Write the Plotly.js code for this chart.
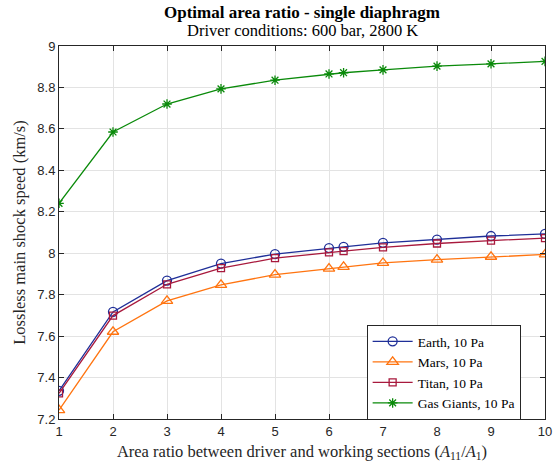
<!DOCTYPE html>
<html>
<head>
<meta charset="utf-8">
<script src="https://cdn.plot.ly/plotly-3.0.1.min.js"></script>
<style>html,body{margin:0;padding:0;background:#fff;}#chart{width:553px;height:470px;}</style>
</head>
<body>
<div id="chart"></div>
<script>
const xValues = [1, 2, 3, 4, 5, 6, 6.27, 7, 8, 9, 10];
const earth = [7.336, 7.717, 7.868, 7.950, 7.996, 8.025, 8.031, 8.050, 8.066, 8.083, 8.093];
const mars = [7.243, 7.621, 7.770, 7.847, 7.897, 7.926, 7.934, 7.953, 7.969, 7.983, 7.994];
const titan = [7.324, 7.699, 7.850, 7.928, 7.976, 8.004, 8.010, 8.028, 8.047, 8.061, 8.073];
const gasGiants = [8.241, 8.585, 8.720, 8.793, 8.835, 8.865, 8.871, 8.885, 8.903, 8.914, 8.926];
const seriesNames = ["Earth, 10 Pa", "Mars, 10 Pa", "Titan, 10 Pa", "Gas Giants, 10 Pa"];
const xTicks = [1, 2, 3, 4, 5, 6, 7, 8, 9, 10];
const yTicks = [7.2, 7.4, 7.6, 7.8, 8, 8.2, 8.4, 8.6, 8.8, 9];
const titleText = "Optimal area ratio - single diaphragm";
const subtitleText = "Driver conditions: 600 bar, 2800 K";

const serif = "'Liberation Serif', 'DejaVu Serif', serif";
const sans = "'Liberation Sans', Arial, sans-serif";

function tr(name, y, color, symbol, size) {
  return {
    x: xValues, y: y, name: name, type: 'scatter', mode: 'lines+markers',
    line: {color: color, width: 1.3},
    marker: {symbol: symbol, size: size, color: color, line: {color: color, width: 1.3}}
  };
}

const data = [
  tr(seriesNames[0], earth, '#1f2f98', 'circle-open', 9),
  tr(seriesNames[1], mars, '#ff7410', 'triangle-up-open', 10),
  tr(seriesNames[2], titan, '#a8193d', 'square-open', 7),
  tr(seriesNames[3], gasGiants, '#0a8a0a', 'asterisk-open', 8)
];

const layout = {
  width: 553, height: 470,
  margin: {l: 59, r: 8, t: 46, b: 51},
  paper_bgcolor: '#fff', plot_bgcolor: '#fff',
  annotations: [
    {text: "<b>" + titleText + "</b>", xref: 'paper', yref: 'paper', x: 0.5, y: 1.089, xanchor: 'center', yanchor: 'middle',
     showarrow: false, font: {family: serif, size: 17, color: '#000'}},
    {text: subtitleText, xref: 'paper', yref: 'paper', x: 0.5, y: 1.041, xanchor: 'center', yanchor: 'middle',
     showarrow: false, font: {family: serif, size: 16.5, color: '#000'}}
  ],
  xaxis: {
    range: [1, 10], tickvals: xTicks, ticktext: xTicks.map(String),
    showgrid: true, gridcolor: '#e3e3e3', gridwidth: 1,
    showline: true, linecolor: '#262626', linewidth: 1, mirror: 'ticks',
    ticks: 'inside', ticklen: 5, tickcolor: '#262626',
    tickfont: {family: sans, size: 13, color: '#262626'},
    zeroline: false,
    title: {text: "Area ratio between driver and working sections (<i>A</i><sub>11</sub>/<i>A</i><sub>1</sub>)",
            font: {family: serif, size: 16.5, color: '#262626'}, standoff: 7}
  },
  yaxis: {
    range: [7.2, 9], tickvals: yTicks, ticktext: yTicks.map(v => String(v)),
    showgrid: true, gridcolor: '#e3e3e3', gridwidth: 1,
    showline: true, linecolor: '#262626', linewidth: 1, mirror: 'ticks',
    ticks: 'inside', ticklen: 5, tickcolor: '#262626',
    tickfont: {family: sans, size: 13, color: '#262626'},
    zeroline: false,
    title: {text: "Lossless main shock speed (km/s)",
            font: {family: serif, size: 16.5, color: '#262626'}, standoff: 7}
  },
  showlegend: true,
  legend: {
    x: 0.633, y: 0.252, xanchor: 'left', yanchor: 'top',
    bgcolor: '#fff', bordercolor: '#262626', borderwidth: 1,
    font: {family: serif, size: 13.5, color: '#000'},
    tracegroupgap: 0, itemwidth: 40
  }
};

Plotly.newPlot('chart', data, layout, {displayModeBar: false, staticPlot: true});
</script>
</body>
</html>
